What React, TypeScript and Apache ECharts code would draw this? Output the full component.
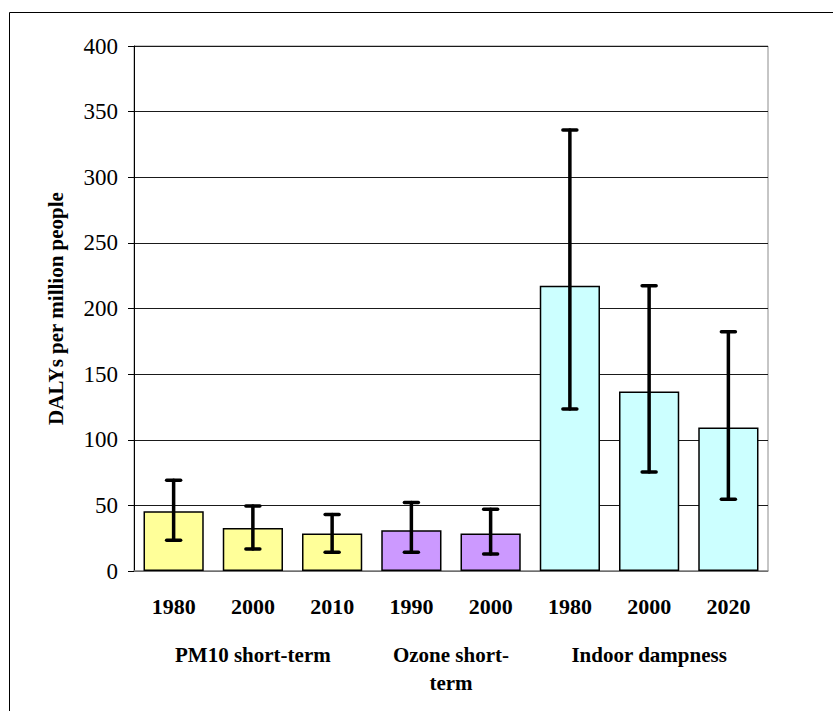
import React, { useEffect, useRef } from "react";
import * as echarts from "echarts";

// Category labels (years) and the group each bar belongs to
const years = ["1980", "2000", "2010", "1990", "2000", "1980", "2000", "2020"];
const groupNames = ["PM10 short-term", "Ozone short-\nterm", "Indoor dampness"];
const groupOfBar = [0, 0, 0, 1, 1, 2, 2, 2];
const groupColors = ["#FFFF99", "#CC99FF", "#CCFFFF"];

// DALYs per million people, with lower / upper uncertainty bounds
const values = [45.5, 32.8, 28.5, 31, 28.5, 217.3, 136.8, 109.3];
const lows = [23.4, 16.8, 14.3, 14.3, 13, 123.5, 75.5, 54.7];
const highs = [69.1, 49.6, 43, 52.1, 47, 336, 217.3, 182.2];

const yTicks = { min: 0, max: 400, interval: 50 };

const FONT = "Liberation Serif";

export default function App() {
  const ref = useRef<HTMLDivElement>(null);

  useEffect(() => {
    if (!ref.current) return;
    const chart = echarts.init(ref.current, undefined, { renderer: "svg" });

    const option: any = {
      animation: false,
      backgroundColor: "#ffffff",
      grid: {
        left: 134,
        top: 46,
        right: 65,
        bottom: 140,
        show: true,
        borderColor: "#8c8c8c",
        borderWidth: 1,
      },
      xAxis: {
        type: "category",
        data: years,
        axisLine: { show: true, lineStyle: { color: "#8c8c8c", width: 1.5 } },
        axisTick: { show: false },
        axisLabel: {
          interval: 0,
          margin: 24,
          color: "#000",
          fontFamily: FONT,
          fontWeight: "bold",
          fontSize: 22,
        },
      },
      yAxis: {
        type: "value",
        min: yTicks.min,
        max: yTicks.max,
        interval: yTicks.interval,
        name: "DALYs per million people",
        nameLocation: "middle",
        nameGap: 68,
        nameRotate: 90,
        nameTextStyle: {
          color: "#000",
          fontFamily: FONT,
          fontWeight: "bold",
          fontSize: 21,
        },
        axisLine: { show: true, lineStyle: { color: "#000", width: 1 } },
        axisTick: { show: true, inside: false, length: 6, lineStyle: { color: "#000" } },
        axisLabel: {
          margin: 16,
          color: "#000",
          fontFamily: FONT,
          fontSize: 23,
        },
        splitLine: { show: true, lineStyle: { color: "#1a1a1a", width: 1 } },
      },
      series: [
        {
          type: "bar",
          barCategoryGap: "24%",
          data: values.map((v, i) => ({
            value: v,
            itemStyle: { color: groupColors[groupOfBar[i]] },
          })),
          itemStyle: { borderColor: "#000", borderWidth: 1.5 },
          z: 2,
        },
        {
          type: "custom",
          z: 5,
          data: values.map((_, i) => [i, lows[i], highs[i]]),
          renderItem: (params: any, api: any) => {
            const idx = api.value(0);
            const lo = api.coord([idx, api.value(1)]);
            const hi = api.coord([idx, api.value(2)]);
            const half = 7;
            const style = { stroke: "#000", lineWidth: 3.5, lineCap: "round" };
            return {
              type: "group",
              children: [
                { type: "line", shape: { x1: hi[0], y1: hi[1], x2: lo[0], y2: lo[1] }, style },
                { type: "line", shape: { x1: hi[0] - half, y1: hi[1], x2: hi[0] + half, y2: hi[1] }, style },
                { type: "line", shape: { x1: lo[0] - half, y1: lo[1], x2: lo[0] + half, y2: lo[1] }, style },
              ],
            };
          },
        },
      ],
    };

    chart.setOption(option);

    // Group captions centred under their bars, positioned from the category axis
    const groupCenters = groupNames.map((_, g) => {
      const idxs = groupOfBar.map((gg, i) => (gg === g ? i : -1)).filter((i) => i >= 0);
      const xs = idxs.map((i) => chart.convertToPixel({ xAxisIndex: 0 }, i) as number);
      return (Math.min(...xs) + Math.max(...xs)) / 2;
    });

    chart.setOption({
      graphic: [
        ...groupNames.map((name, g) => ({
          type: "text",
          x: groupCenters[g],
          y: 641,
          style: {
            text: name,
            fill: "#000",
            fontFamily: FONT,
            fontWeight: "bold",
            fontSize: 21,
            align: "center",
            verticalAlign: "top",
            lineHeight: 28,
          },
        })),
        // figure frame (left and top edges)
        { type: "line", shape: { x1: 9.5, y1: 12.5, x2: 9.5, y2: 711 }, style: { stroke: "#000", lineWidth: 1 } },
        { type: "line", shape: { x1: 9.5, y1: 12.5, x2: 833, y2: 12.5 }, style: { stroke: "#000", lineWidth: 1 } },
      ],
    });

    return () => chart.dispose();
  }, []);

  return <div ref={ref} style={{ width: 833, height: 711, position: "absolute", left: 0, top: 0 }} />;
}
